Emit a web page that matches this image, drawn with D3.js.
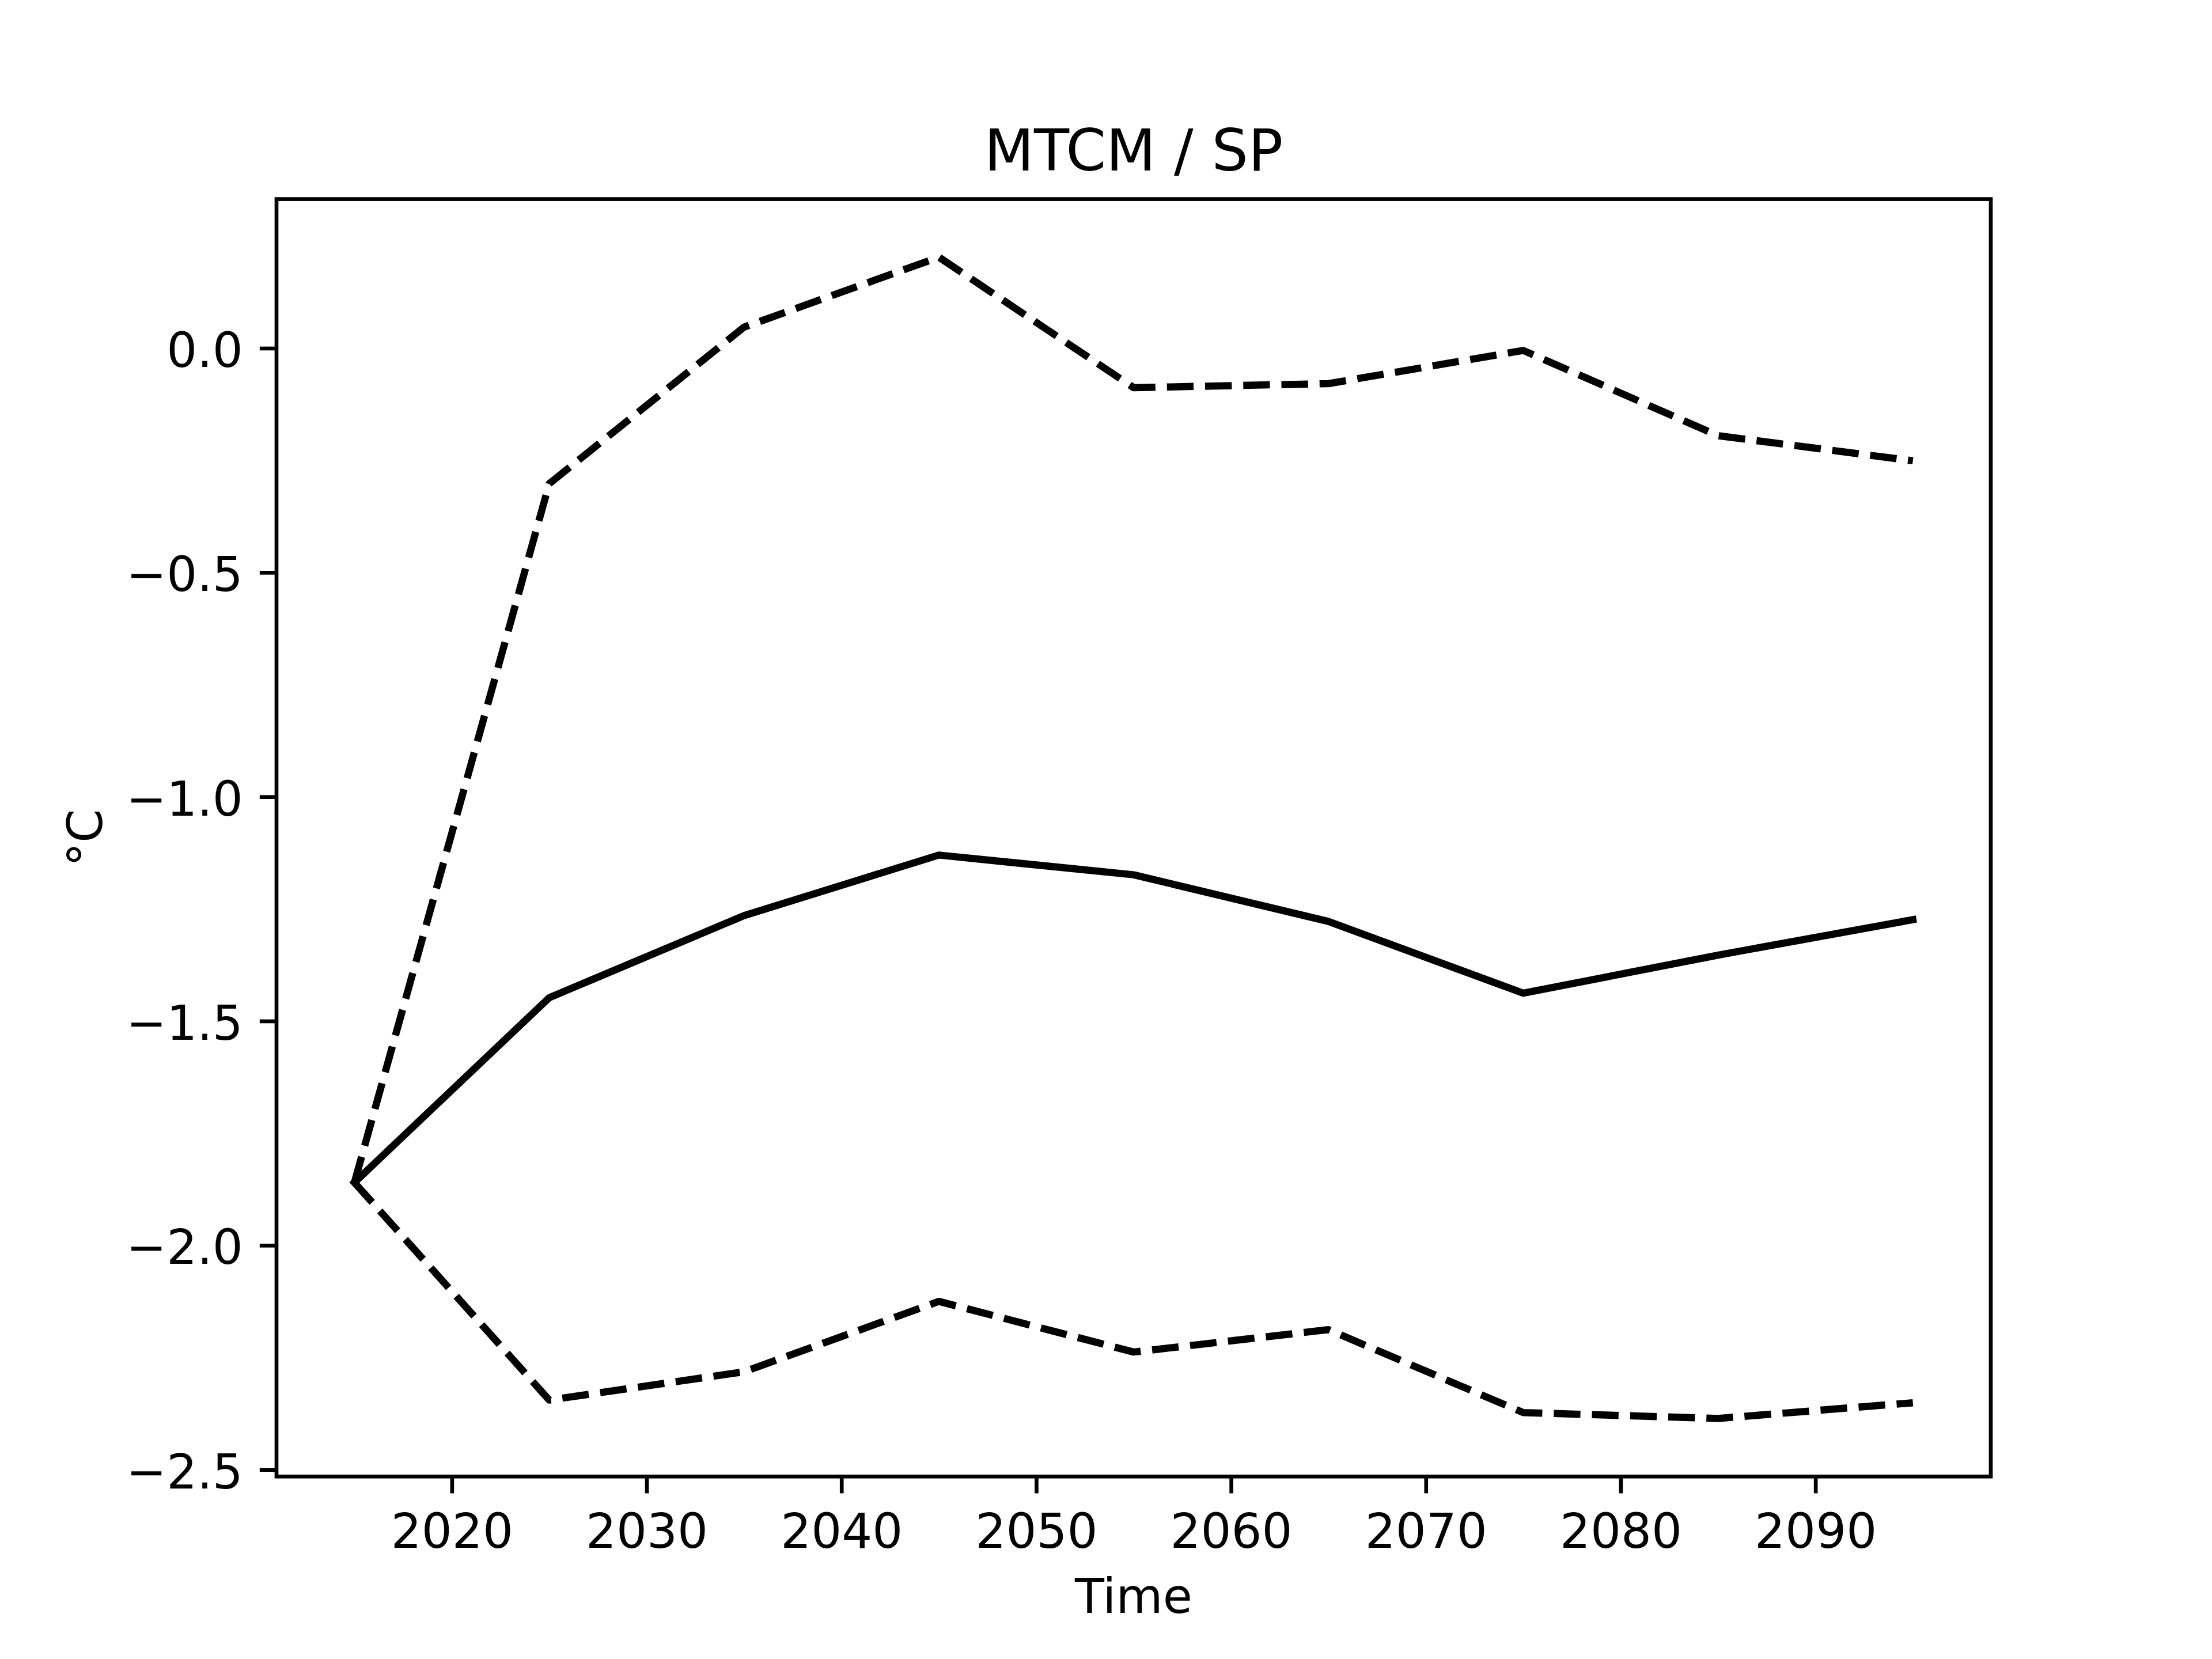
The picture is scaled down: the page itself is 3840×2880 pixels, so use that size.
<!DOCTYPE html>
<html>
<head>
<meta charset="utf-8">
<script src="https://cdn.jsdelivr.net/npm/d3@7"></script>
<style>
  html, body { margin: 0; padding: 0; background: #ffffff; }
  svg { display: block; }
  text { font-family: "DejaVu Sans", sans-serif; fill: #000; }
</style>
</head>
<body>
<script>
// ---- Data ----
const years = [2015, 2025, 2035, 2045, 2055, 2065, 2075, 2085, 2095];
const meanValues = [-1.860, -1.448, -1.265, -1.130, -1.174, -1.278, -1.438, -1.353, -1.274];
const upperValues = [-1.860, -0.302, 0.047, 0.203, -0.088, -0.079, -0.005, -0.195, -0.251];
const lowerValues = [-1.860, -2.345, -2.282, -2.125, -2.238, -2.188, -2.373, -2.386, -2.351];
const xTicks = [2020, 2030, 2040, 2050, 2060, 2070, 2080, 2090];
const yTicks = [0.0, -0.5, -1.0, -1.5, -2.0, -2.5];
const titleText = "MTCM / SP";
const xLabelText = "Time";
const yLabelText = "°C";

(function () {
// ---- Layout (matplotlib default figure at 600 dpi) ----
const W = 3840, H = 2880;
const axL = 480, axR = 3456, axT = 345.6, axB = 2563.2;
const pt = 600 / 72;
const lw = 1.5 * pt;
const spineW = 0.8 * pt;
const tickLen = 3.5 * pt;
const fs = 10 * pt;
const titleFs = 12 * pt;

// domains with 5% margins like matplotlib
const xMin = d3.min(years), xMax = d3.max(years);
const xPad = (xMax - xMin) * 0.05;
const allY = meanValues.concat(upperValues, lowerValues);
const yMin = d3.min(allY), yMax = d3.max(allY);
const yPad = (yMax - yMin) * 0.05;

const x = d3.scaleLinear().domain([xMin - xPad, xMax + xPad]).range([axL, axR]);
const y = d3.scaleLinear().domain([yMin - yPad, yMax + yPad]).range([axB, axT]);

const svg = d3.select("body").append("svg")
  .attr("width", W).attr("height", H)
  .attr("viewBox", `0 0 ${W} ${H}`);

svg.append("rect").attr("width", W).attr("height", H).attr("fill", "#fff");

svg.append("defs").append("clipPath").attr("id", "clip")
  .append("rect").attr("x", axL).attr("y", axT)
  .attr("width", axR - axL).attr("height", axB - axT);

const line = d3.line().x((d, i) => x(years[i])).y(d => y(d));

const plot = svg.append("g").attr("clip-path", "url(#clip)");

plot.append("path").datum(upperValues)
  .attr("d", line).attr("fill", "none").attr("stroke", "#000")
  .attr("stroke-width", lw).attr("stroke-dasharray", `${3.7 * lw} ${1.6 * lw}`)
  .attr("stroke-linejoin", "round").attr("stroke-linecap", "butt");

plot.append("path").datum(lowerValues)
  .attr("d", line).attr("fill", "none").attr("stroke", "#000")
  .attr("stroke-width", lw).attr("stroke-dasharray", `${3.7 * lw} ${1.6 * lw}`)
  .attr("stroke-linejoin", "round").attr("stroke-linecap", "butt");

plot.append("path").datum(meanValues)
  .attr("d", line).attr("fill", "none").attr("stroke", "#000")
  .attr("stroke-width", lw)
  .attr("stroke-linejoin", "round").attr("stroke-linecap", "square");

// ---- Axes ----
const fmtY = d => d3.format(".1f")(d).replace("-", "\u2212");

const xAxis = d3.axisBottom(x).tickValues(xTicks).tickFormat(d3.format("d"))
  .tickSize(tickLen).tickPadding(tickLen);
const yAxis = d3.axisLeft(y).tickValues(yTicks).tickFormat(fmtY)
  .tickSize(tickLen).tickPadding(tickLen);

const gx = svg.append("g").attr("transform", `translate(0,${axB})`).call(xAxis);
const gy = svg.append("g").attr("transform", `translate(${axL},0)`).call(yAxis);

[gx, gy].forEach(g => {
  g.select(".domain").remove();
  g.selectAll(".tick line").attr("stroke", "#000").attr("stroke-width", spineW);
  g.selectAll(".tick text").attr("font-size", fs).attr("font-family", "DejaVu Sans, sans-serif").attr("fill", "#000");
});
gx.selectAll(".tick text").attr("dy", null).attr("y", 2687 - axB);
gy.selectAll(".tick text").attr("dy", null).attr("x", -(tickLen * 2)).attr("y", 0.385 * fs);

// spines
svg.append("rect")
  .attr("x", axL).attr("y", axT)
  .attr("width", axR - axL).attr("height", axB - axT)
  .attr("fill", "none").attr("stroke", "#000").attr("stroke-width", spineW);

// ---- Text ----
svg.append("text")
  .attr("x", (axL + axR) / 2).attr("y", 296)
  .attr("text-anchor", "middle").attr("font-size", titleFs)
  .text(titleText);

svg.append("text")
  .attr("x", (axL + axR) / 2).attr("y", 2800)
  .attr("text-anchor", "middle").attr("font-size", fs)
  .text(xLabelText);

svg.append("text")
  .attr("transform", `translate(177,${(axT + axB) / 2}) rotate(-90)`)
  .attr("text-anchor", "middle").attr("font-size", fs)
  .text(yLabelText);
})();
</script>
</body>
</html>
